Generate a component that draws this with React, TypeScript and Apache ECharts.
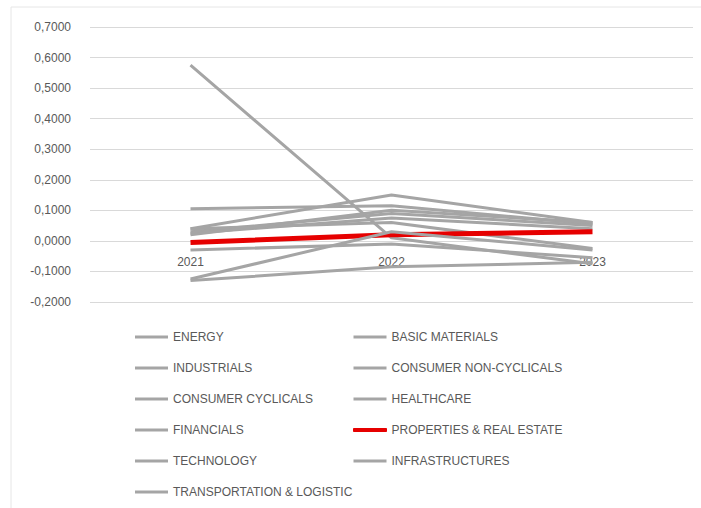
import React, { useEffect, useRef } from "react";
import * as echarts from "echarts";

const years = ["2021", "2022", "2023"];
const yTicks = [-0.2, -0.1, 0, 0.1, 0.2, 0.3, 0.4, 0.5, 0.6, 0.7];

const energy = [0.575, 0.01, -0.075];
const basicMaterials = [0.105, 0.115, 0.055];
const industrials = [0.04, 0.15, 0.06];
const consumerNonCyclicals = [0.03, 0.09, 0.05];
const consumerCyclicals = [0.025, 0.075, 0.04];
const healthcare = [0.04, 0.06, -0.025];
const financials = [0.02, 0.1, 0.06];
const properties = [-0.005, 0.02, 0.03];
const technology = [-0.125, 0.03, -0.03];
const infrastructures = [-0.03, -0.01, -0.055];
const transportation = [-0.13, -0.085, -0.07];

const seriesList: [string, number[]][] = [
  ["ENERGY", energy],
  ["BASIC MATERIALS", basicMaterials],
  ["INDUSTRIALS", industrials],
  ["CONSUMER NON-CYCLICALS", consumerNonCyclicals],
  ["CONSUMER CYCLICALS", consumerCyclicals],
  ["HEALTHCARE", healthcare],
  ["FINANCIALS", financials],
  ["PROPERTIES & REAL ESTATE", properties],
  ["TECHNOLOGY", technology],
  ["INFRASTRUCTURES", infrastructures],
  ["TRANSPORTATION & LOGISTIC", transportation],
];

const leftLegend = ["ENERGY", "INDUSTRIALS", "CONSUMER CYCLICALS", "FINANCIALS", "TECHNOLOGY", "TRANSPORTATION & LOGISTIC"];
const rightLegend = ["BASIC MATERIALS", "CONSUMER NON-CYCLICALS", "HEALTHCARE", "PROPERTIES & REAL ESTATE", "INFRASTRUCTURES"];

const GRAY = "#a5a5a5";
const RED = "#e60000";
const FONT = "Liberation Sans";

function legendItems(names: string[]) {
  return names.map((n) =>
    n === "PROPERTIES & REAL ESTATE"
      ? { name: n, icon: "rect", itemStyle: { color: RED, borderColor: RED, borderWidth: 1 } }
      : { name: n, icon: "rect", itemStyle: { color: GRAY, borderWidth: 0 } }
  );
}

export default function App() {
  const ref = useRef<HTMLDivElement>(null);
  useEffect(() => {
    document.body.style.margin = "0";
    const chart = echarts.init(ref.current!, null, { renderer: "svg" });
    const legendCommon = {
      orient: "vertical" as const,
      itemWidth: 33,
      itemHeight: 3,
      itemGap: 17,
      padding: 0,
      height: 175,
      textStyle: { color: "#595959", fontSize: 12, fontFamily: FONT, lineHeight: 14 },
    };
    chart.setOption({
      animation: false,
      backgroundColor: "#ffffff",
      graphic: [
        {
          type: "rect",
          shape: { x: 11, y: 7, width: 700, height: 510 },
          style: { fill: "none", stroke: "#e6e6e6", lineWidth: 1 },
          silent: true,
        },
      ],
      grid: { left: 90, top: 27, width: 603, height: 275, containLabel: false },
      xAxis: {
        type: "category",
        data: years,
        boundaryGap: true,
        axisLine: { show: false },
        axisTick: { show: false },
        axisLabel: { color: "#595959", fontSize: 12, fontFamily: FONT, margin: -46 },
        splitLine: { show: false },
      },
      yAxis: {
        type: "value",
        min: yTicks[0],
        max: yTicks[yTicks.length - 1],
        interval: 0.1,
        axisLine: { show: false },
        axisTick: { show: false },
        axisLabel: {
          color: "#595959",
          fontSize: 12,
          fontFamily: FONT,
          margin: 19,
          formatter: (v: number) => v.toFixed(4).replace(".", ","),
        },
        splitLine: { show: true, lineStyle: { color: "#d9d9d9", width: 1 } },
      },
      legend: [
        { ...legendCommon, left: 135, top: 330, data: legendItems(leftLegend) },
        { ...legendCommon, left: 353, top: 330, data: legendItems(rightLegend) },
      ],
      series: seriesList.map(([name, data]) => {
        const isRed = name === "PROPERTIES & REAL ESTATE";
        return {
          name,
          type: "line",
          data,
          symbol: "none",
          lineStyle: { color: isRed ? RED : GRAY, width: isRed ? 5 : 3 },
          itemStyle: { color: isRed ? RED : GRAY },
        };
      }),
    });
    return () => chart.dispose();
  }, []);
  return <div ref={ref} style={{ width: 701, height: 508 }} />;
}
